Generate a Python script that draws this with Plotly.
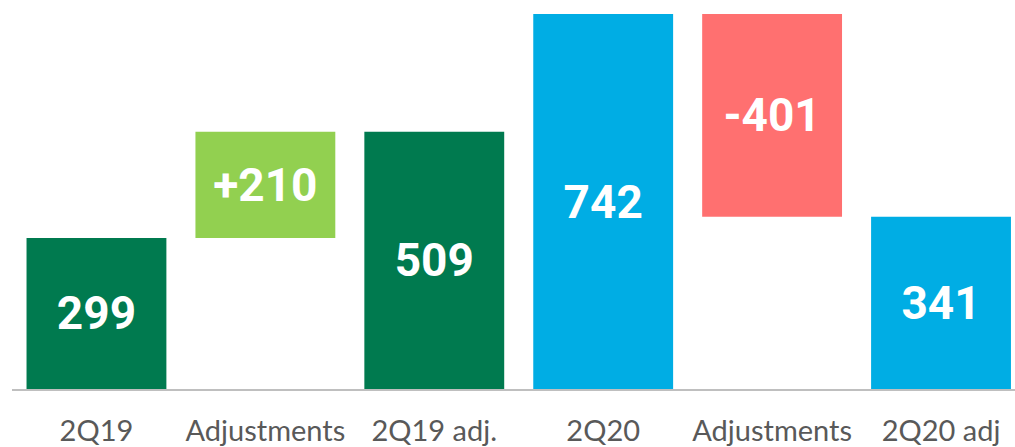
import plotly.graph_objects as go

CATEGORIES = ['2Q19', 'Adjustments', '2Q19 adj.', '2Q20', 'Adjustments ', '2Q20 adj']
TICK_LABELS = ['2Q19', 'Adjustments', '2Q19 adj.', '2Q20', 'Adjustments', '2Q20 adj']
VALUES = [299, 210, 509, 742, -401, 341]
IS_DELTA = [False, True, False, False, True, False]
LABELS = ['299', '+210', '509', '742', '-401', '341']
COLORS = ['#007A4F', '#92D050', '#007A4F', '#00ADE4', '#FF7070', '#00ADE4']

# floating bars for the adjustments: start from the previous total
bases, heights = [], []
running = 0
for value, delta in zip(VALUES, IS_DELTA):
    if delta:
        start = running
        end = running + value
        bases.append(min(start, end))
        heights.append(abs(value))
        running = end
    else:
        bases.append(0)
        heights.append(value)
        running = value

fig = go.Figure(go.Bar(
    x=CATEGORIES,
    y=heights,
    base=bases,
    marker=dict(color=COLORS, line=dict(width=0)),
    text=LABELS,
    textposition='inside',
    insidetextanchor='middle',
    textangle=0,
    textfont=dict(family='Roboto', size=46, color='white', weight='bold'),
    hoverinfo='skip',
))

fig.update_layout(
    width=1015,
    height=447,
    margin=dict(l=11.5, r=0, t=0, b=58),
    plot_bgcolor='white',
    paper_bgcolor='white',
    bargap=0.172,
    showlegend=False,
    uniformtext=dict(minsize=46, mode='show'),
)
fig.update_xaxes(
    type='category',
    range=[-0.5, 5.438],
    tickvals=CATEGORIES,
    ticktext=TICK_LABELS,
    showline=True,
    linecolor='#BFBFBF',
    linewidth=1.5,
    showgrid=False,
    ticks='',
    automargin=False,
    ticklabelstandoff=15,
    tickfont=dict(family='Lato', size=29, color='#595959'),
)
fig.update_yaxes(
    range=[0, 769.7],
    visible=False,
    showgrid=False,
    zeroline=False,
    automargin=False,
)

# drop the default page margin so the figure sits flush in the window
fig.write_html(
    'out.html',
    config={'displayModeBar': False},
    post_script="document.body.style.margin='0';",
)
